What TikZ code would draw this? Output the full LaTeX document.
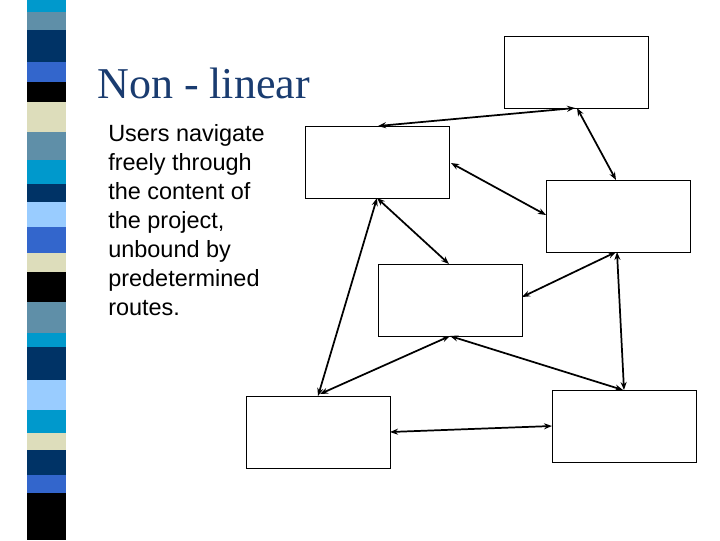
\documentclass[tikz,border=0pt]{standalone}
\usetikzlibrary{arrows.meta}
\usepackage{fontspec}
\setmainfont{Liberation Serif}
\setsansfont{Liberation Sans}
\begin{document}
\begin{tikzpicture}[x=0.75pt,y=-0.75pt,
  box/.style={draw,line width=0.8pt,minimum width=108pt,minimum height=54pt,inner sep=0pt,anchor=north west},
  link/.style={line width=1.3pt,{Stealth[length=6pt,width=4.5pt]}-{Stealth[length=6pt,width=4.5pt]}}]
\useasboundingbox (0,0) rectangle (720,540);
\fill[white] (0,0) rectangle (720,540);
% stripe
\definecolor{cy}{HTML}{0099CC}\definecolor{st}{HTML}{5F8FA8}\definecolor{nv}{HTML}{003366}
\definecolor{bl}{HTML}{3366CC}\definecolor{bg}{HTML}{DDDDBB}\definecolor{lb}{HTML}{99CCFF}
\definecolor{tc}{HTML}{1A3C70}
\foreach \a/\b/\c in {0/12/cy,12/30/st,30/62/nv,62/82/bl,82/102/black,102/132/bg,132/160/st,160/184/cy,184/202/nv,202/227/lb,227/253/bl,253/272/bg,272/302/black,302/333/st,333/347/cy,347/380/nv,380/410/lb,410/433/cy,433/450/bg,450/475/nv,475/493/bl,493/540/black}
  \fill[\c] (27,\a) rectangle (66,\b);
\node[anchor=base west,text=tc,font=\fontsize{33}{38}\selectfont,inner sep=0pt] (title) at (97,98) {Non - linear};
\node[anchor=north west,align=left,font=\sffamily\fontsize{17.6}{21.75}\selectfont,inner sep=0pt] (body) at (108,124)
 {Users navigate\\freely through\\the content of\\the project,\\unbound by\\predetermined\\routes.};
\node[box] (A) at (504,36) {};
\node[box] (B) at (305,126) {};
\node[box] (C) at (546,180) {};
\node[box] (D) at (378,264) {};
\node[box] (E) at (246,396) {};
\node[box] (F) at (552,390) {};
\coordinate (a1) at (575,108); \coordinate (a2) at (577,108);
\coordinate (b1) at (378,126); \coordinate (b2) at (451,163); \coordinate (b3) at (377,198);
\coordinate (c1) at (616,180); \coordinate (c2) at (546,215); \coordinate (c3) at (616,252); \coordinate (c4) at (617,252);
\coordinate (d1) at (449,264); \coordinate (d2) at (522,297); \coordinate (d3) at (450,336);
\coordinate (e1) at (318,396); \coordinate (e2) at (320,394); \coordinate (e3) at (390,432);
\coordinate (f1) at (624,390); \coordinate (f2) at (623,390); \coordinate (f3) at (552,426);
\draw[link] (a1) -- (b1);
\draw[link] (a2) -- (c1);
\draw[link] (b2) -- (c2);
\draw[link] (b3) -- (d1);
\draw[link] (b3) -- (e1);
\draw[link] (c3) -- (d2);
\draw[link] (c4) -- (f1);
\draw[link] (d3) -- (e2);
\draw[link] (d3) -- (f2);
\draw[link] (e3) -- (f3);
\end{tikzpicture}
\end{document}
